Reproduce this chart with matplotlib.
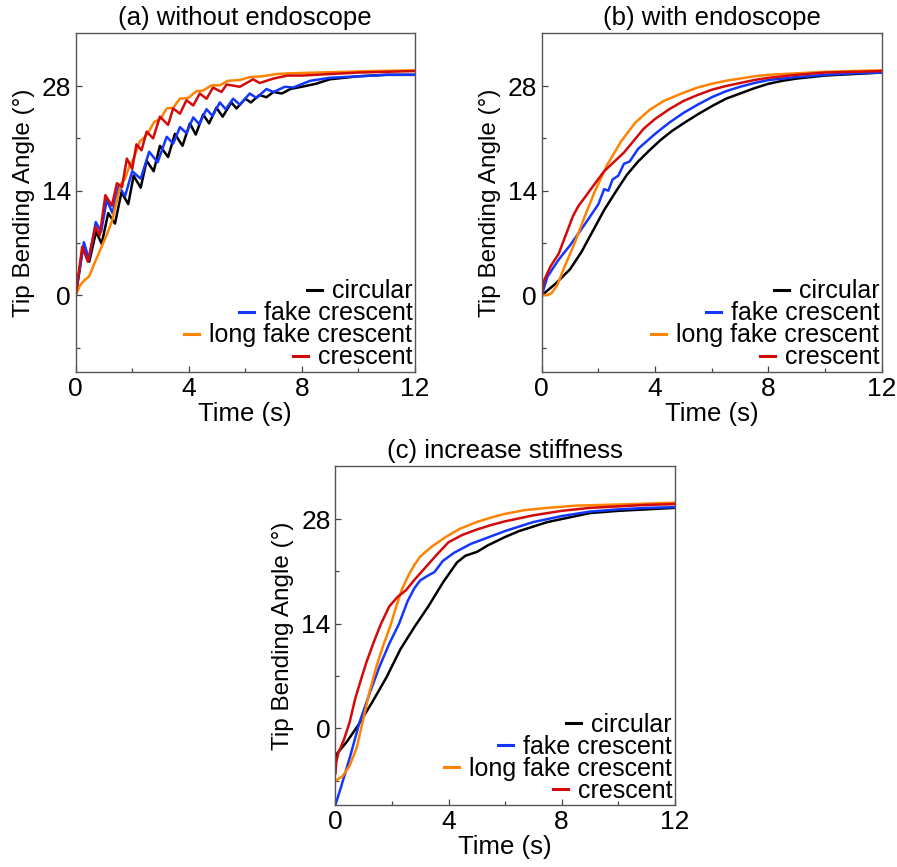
import matplotlib.pyplot as plt
from matplotlib.ticker import MultipleLocator

plt.rcParams['font.family'] = ['Liberation Sans', 'DejaVu Sans']

labels = ['circular', 'fake crescent', 'long fake crescent', 'crescent']
colors = ['#000000', '#1437ff', '#ff8300', '#d20a0a']
titles = ['(a) without endoscope', '(b) with endoscope', '(c) increase stiffness']

# (a) without endoscope
a_circ_t = [0, 0.25, 0.48, 0.72, 0.92, 1.15, 1.39, 1.62, 1.86, 2.05, 2.3, 2.51, 2.76, 2.98, 3.27, 3.51,
            3.78, 4.04, 4.25, 4.51, 4.72, 4.98, 5.2, 5.51, 5.69, 6.0, 6.2, 6.5, 6.75, 7.0, 7.3, 7.6,
            8.0, 8.5, 9.0, 9.5, 10, 11, 12]
a_circ_y = [0, 6.3, 4.5, 8.5, 6.9, 11.0, 9.6, 13.8, 12.2, 16.0, 14.4, 18.0, 16.6, 20.0, 18.5, 21.6,
            20.0, 23.0, 21.5, 24.2, 23.0, 25.1, 23.9, 25.8, 25.0, 26.3, 25.8, 26.8, 26.5, 27.2, 27.0, 27.6,
            27.9, 28.3, 28.9, 29.1, 29.3, 29.5, 29.5]
a_fake_t = [0, 0.29, 0.47, 0.71, 0.9, 1.1, 1.3, 1.52, 1.75, 2.0, 2.3, 2.6, 2.9, 3.22, 3.45, 3.69,
            3.92, 4.16, 4.37, 4.63, 4.84, 5.10, 5.31, 5.57, 5.81, 6.16, 6.4, 6.75, 7.0, 7.4, 7.7,
            8.3, 9.0, 10, 11, 12]
a_fake_y = [0, 7.1, 4.8, 9.8, 8.5, 12.8, 11.0, 14.6, 13.3, 16.6, 15.6, 19.2, 17.8, 21.2, 20.3, 22.5,
            21.7, 23.8, 22.9, 24.9, 24.0, 25.8, 24.9, 26.3, 25.5, 27.0, 26.4, 27.6, 27.2, 27.9, 27.8,
            28.7, 29.1, 29.3, 29.5, 29.5]
a_long_t = [0, 0.15, 0.3, 0.47, 0.71, 0.94, 1.12, 1.29, 1.45, 1.6, 1.75, 1.9, 2.05, 2.27, 2.45, 2.6,
            2.78, 3.0, 3.22, 3.45, 3.69, 3.98, 4.27, 4.51, 4.81, 5.10, 5.39, 5.81, 6.16, 6.6, 7.1,
            7.6, 8.5, 9.5, 10.5, 12]
a_long_y = [0, 1.3, 2.0, 2.5, 4.7, 6.7, 8.3, 10.0, 12.6, 14.9, 15.6, 17.3, 18.3, 20.6, 21.2, 22.0,
            23.2, 23.6, 25.0, 25.1, 26.3, 26.4, 27.3, 27.4, 28.1, 28.1, 28.7, 28.8, 29.2, 29.3, 29.6,
            29.7, 29.8, 29.9, 30.0, 30.1]
a_cres_t = [0, 0.23, 0.43, 0.7, 0.85, 1.05, 1.28, 1.46, 1.64, 1.81, 2.0, 2.15, 2.33, 2.51, 2.74, 2.98,
            3.27, 3.45, 3.69, 3.92, 4.16, 4.39, 4.63, 4.86, 5.16, 5.34, 5.81, 6.28, 6.51, 7.0, 7.5,
            8.0, 9.0, 10, 11, 12]
a_cres_y = [0, 6.5, 4.5, 9.2, 8.0, 13.4, 12.0, 15.0, 14.5, 18.3, 16.9, 20.2, 19.4, 21.9, 21.0, 23.9,
            22.8, 25.0, 24.3, 26.1, 25.4, 27.0, 26.3, 27.8, 27.2, 28.2, 27.9, 28.9, 28.4, 29.0, 29.4,
            29.4, 29.6, 29.8, 29.9, 30.0]

# (b) with endoscope
b_circ_t = [0, 0.5, 1.0, 1.4, 1.8, 2.2, 2.6, 3.0, 3.4, 3.8, 4.2, 4.6, 5.0, 5.5, 6.0, 6.5, 7.0, 7.5,
            8.0, 8.5, 9.0, 10, 11, 12]
b_circ_y = [0, 1.6, 3.5, 5.8, 8.6, 11.4, 13.8, 16.1, 17.9, 19.4, 20.8, 22.0, 23.0, 24.2, 25.3, 26.3,
            27.0, 27.7, 28.3, 28.7, 29.0, 29.4, 29.6, 29.8]
b_fake_t = [0, 0.2, 0.6, 1.0, 1.5, 2.0, 2.2, 2.35, 2.5, 2.7, 2.9, 3.1, 3.4, 4.0, 4.5, 5.0, 5.5, 6.0,
            6.5, 7.0, 7.5, 8.0, 9.0, 10, 11, 12]
b_fake_y = [0, 2.5, 4.8, 6.7, 9.4, 12.2, 14.2, 14.0, 15.5, 16.0, 17.6, 17.9, 19.6, 21.6, 23.1, 24.4,
            25.5, 26.5, 27.3, 27.9, 28.4, 28.8, 29.2, 29.5, 29.7, 29.8]
b_long_t = [0, 0.2, 0.35, 0.55, 0.8, 1.15, 1.5, 1.85, 2.3, 2.8, 3.3, 3.8, 4.3, 5.0, 5.5, 6.0, 6.5,
            7.0, 7.5, 8.0, 9.0, 10, 11, 12]
b_long_y = [0, 0.05, 0.3, 1.4, 3.8, 6.9, 10.4, 13.7, 17.4, 20.6, 23.1, 24.8, 26.0, 27.1, 27.8, 28.3,
            28.7, 29.0, 29.3, 29.5, 29.7, 29.9, 30.0, 30.1]
b_cres_t = [0, 0.08, 0.3, 0.6, 0.8, 0.95, 1.1, 1.3, 1.5, 1.75, 2.2, 2.9, 3.6, 4.0, 4.5, 5.0, 5.5, 6.0,
            6.5, 7.0, 7.5, 8.0, 9.0, 10, 11, 12]
b_cres_y = [0, 2.0, 3.8, 5.6, 7.6, 9.1, 10.6, 12.0, 13.0, 14.3, 16.6, 19.1, 22.3, 23.6, 24.9, 26.0,
            26.8, 27.5, 28.0, 28.4, 28.8, 29.1, 29.5, 29.8, 29.9, 30.0]

# (c) increase stiffness
c_circ_t = [0, 0.05, 0.4, 0.8, 1.3, 1.8, 2.3, 2.8, 3.3, 3.8, 4.3, 4.6, 5.0, 5.4, 6.0, 6.5, 7.0, 7.5,
            8.0, 8.5, 9.0, 10, 11, 12]
c_circ_y = [-4.0, -3.4, -1.8, 0.4, 3.5, 6.8, 10.6, 13.6, 16.4, 19.5, 22.2, 23.1, 23.6, 24.5, 25.6,
            26.4, 27.0, 27.6, 28.0, 28.4, 28.8, 29.1, 29.3, 29.5]
c_fake_t = [0, 0.2, 0.5, 0.85, 1.2, 1.55, 1.9, 2.25, 2.55, 2.8, 3.0, 3.3, 3.5, 3.8, 4.2, 4.8, 5.3,
            6.0, 6.5, 7.0, 7.5, 8.0, 9.0, 10, 11, 12]
c_fake_y = [-10.2, -7.8, -4.0, 0.8, 4.6, 8.2, 11.3, 14.0, 17.0, 18.8, 19.8, 20.5, 20.9, 22.4, 23.5,
            24.7, 25.4, 26.4, 27.0, 27.6, 28.0, 28.4, 29.0, 29.3, 29.5, 29.6]
c_long_t = [0, 0.25, 0.5, 0.75, 1.0, 1.2, 1.45, 1.7, 1.95, 2.15, 2.35, 2.6, 2.8, 3.0, 3.4, 3.9, 4.4,
            5.0, 5.5, 6.0, 6.7, 7.5, 8.5, 9.5, 10.5, 12]
c_long_y = [-7.0, -6.4, -5.0, -2.6, 1.5, 4.8, 8.3, 11.2, 13.8, 16.3, 18.6, 20.6, 21.9, 23.0, 24.3,
            25.6, 26.7, 27.6, 28.2, 28.7, 29.2, 29.5, 29.8, 29.9, 30.0, 30.2]
c_cres_t = [0, 0.03, 0.1, 0.3, 0.5, 0.7, 0.9, 1.1, 1.35, 1.6, 1.9, 2.2, 2.5, 2.8, 3.2, 3.6, 4.0, 4.5,
            5.0, 5.5, 6.0, 6.5, 7.0, 7.5, 8.0, 9.0, 10, 11, 12]
c_cres_y = [-6.0, -4.5, -3.3, -1.5, 0.8, 4.0, 6.5, 8.9, 11.5, 13.9, 16.3, 17.6, 18.5, 19.9, 21.6,
            23.3, 24.9, 25.9, 26.6, 27.2, 27.7, 28.1, 28.5, 28.8, 29.1, 29.5, 29.7, 29.9, 30.0]

panels = [
    [(a_circ_t, a_circ_y), (a_fake_t, a_fake_y), (a_long_t, a_long_y), (a_cres_t, a_cres_y)],
    [(b_circ_t, b_circ_y), (b_fake_t, b_fake_y), (b_long_t, b_long_y), (b_cres_t, b_cres_y)],
    [(c_circ_t, c_circ_y), (c_fake_t, c_fake_y), (c_long_t, c_long_y), (c_cres_t, c_cres_y)],
]

fig = plt.figure(figsize=(8.97, 8.67), dpi=100)
rects = [[0.0844, 0.571, 0.378, 0.391],
         [0.604, 0.571, 0.379, 0.391],
         [0.374, 0.0715, 0.378, 0.391]]

for rect, title, series in zip(rects, titles, panels):
    ax = fig.add_axes(rect)
    for (t, y), lab, col in zip(series, labels, colors):
        ax.plot(t, y, color=col, lw=1.8, label=lab, solid_joinstyle='round')

    ax.set_xlim(0, 12)
    ax.set_ylim(-10.25, 35.1)
    ax.xaxis.set_major_locator(MultipleLocator(4))
    ax.xaxis.set_minor_locator(MultipleLocator(2))
    ax.set_yticks([0, 14, 28])
    ax.set_yticks([-7, 7, 21], minor=True)
    ax.tick_params(which='both', direction='in', top=False, right=False,
                   labelsize=19, color='#444444')
    ax.tick_params(which='major', length=4, width=0.9)
    ax.tick_params(which='minor', length=3, width=0.9)
    for sp in ax.spines.values():
        sp.set_color('#555555')
        sp.set_linewidth(1.0)

    ax.set_title(title, fontsize=18.5, pad=6)
    ax.set_xlabel('Time (s)', fontsize=18.5, labelpad=1)
    ax.set_ylabel('Tip Bending Angle (°)', fontsize=17.5, labelpad=5)

    leg = ax.legend(loc='lower right', frameon=False, fontsize=18,
                    handlelength=0.6, handletextpad=0.4, labelspacing=-0.08,
                    borderpad=0, borderaxespad=0.1)
    for col in leg._legend_handle_box.get_children():
        col.align = 'right'
    for h in leg.get_lines():
        h.set_linewidth(2.2)

plt.savefig('out.png', dpi=100)
plt.close()
